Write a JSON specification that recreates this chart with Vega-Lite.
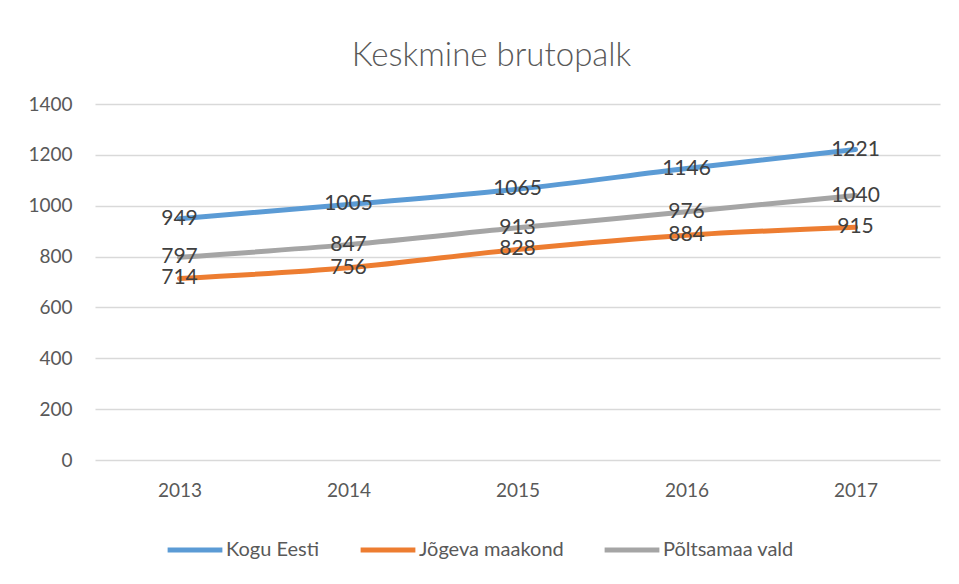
{
  "$schema": "https://vega.github.io/schema/vega-lite/v6.json",
  "width": 845,
  "height": 356,
  "autosize": "none",
  "padding": {"left": 95, "top": 104, "right": 19, "bottom": 124},
  "background": "white",
  "title": {
    "text": "Keskmine brutopalk",
    "fontSize": 33,
    "font": "Lato",
    "fontWeight": 300,
    "color": "#595959",
    "offset": 22,
    "dx": -26,
    "anchor": "middle"
  },
  "data": {
    "values": [
      {"year": "2013", "series": "Kogu Eesti", "value": 949},
      {"year": "2014", "series": "Kogu Eesti", "value": 1005},
      {"year": "2015", "series": "Kogu Eesti", "value": 1065},
      {"year": "2016", "series": "Kogu Eesti", "value": 1146},
      {"year": "2017", "series": "Kogu Eesti", "value": 1221},
      {"year": "2013", "series": "Jõgeva maakond", "value": 714},
      {"year": "2014", "series": "Jõgeva maakond", "value": 756},
      {"year": "2015", "series": "Jõgeva maakond", "value": 828},
      {"year": "2016", "series": "Jõgeva maakond", "value": 884},
      {"year": "2017", "series": "Jõgeva maakond", "value": 915},
      {"year": "2013", "series": "Põltsamaa vald", "value": 797},
      {"year": "2014", "series": "Põltsamaa vald", "value": 847},
      {"year": "2015", "series": "Põltsamaa vald", "value": 913},
      {"year": "2016", "series": "Põltsamaa vald", "value": 976},
      {"year": "2017", "series": "Põltsamaa vald", "value": 1040}
    ]
  },
  "encoding": {
    "x": {
      "field": "year",
      "type": "ordinal",
      "scale": {"type": "point", "padding": 0.5},
      "axis": {
        "title": null,
        "labelAngle": 0,
        "domain": false,
        "ticks": false,
        "labelPadding": 21,
        "labelFontSize": 19,
        "labelColor": "#595959",
        "labelFont": "Lato"
      }
    },
    "y": {
      "field": "value",
      "type": "quantitative",
      "scale": {"domain": [0, 1400]},
      "axis": {
        "title": null,
        "values": [0, 200, 400, 600, 800, 1000, 1200, 1400],
        "format": "d",
        "domain": false,
        "ticks": false,
        "labelPadding": 23,
        "labelFontSize": 19,
        "labelColor": "#595959",
        "labelFont": "Lato",
        "gridColor": "#D9D9D9",
        "gridWidth": 1.5
      }
    },
    "color": {
      "field": "series",
      "type": "nominal",
      "scale": {
        "domain": ["Kogu Eesti", "Jõgeva maakond", "Põltsamaa vald"],
        "range": ["#5B9BD5", "#ED7D31", "#A5A5A5"]
      },
      "legend": {
        "title": null,
        "orient": "none",
        "direction": "horizontal",
        "legendX": 70,
        "legendY": 416,
        "symbolType": "stroke",
        "symbolSize": 3000,
        "symbolStrokeWidth": 5,
        "labelFontSize": 20,
        "labelColor": "#595959",
        "labelFont": "Lato",
        "labelOffset": 1,
        "columnPadding": 30
      }
    }
  },
  "layer": [
    {
      "mark": {"type": "line", "interpolate": "monotone", "strokeWidth": 5, "strokeCap": "round"}
    },
    {
      "mark": {"type": "text", "fontSize": 21, "font": "Lato", "color": "#404040", "baseline": "middle", "align": "center"},
      "encoding": {
        "text": {"field": "value", "type": "quantitative", "format": "d"},
        "color": {"value": "#404040"}
      }
    }
  ],
  "config": {
    "view": {"stroke": null}
  }
}
